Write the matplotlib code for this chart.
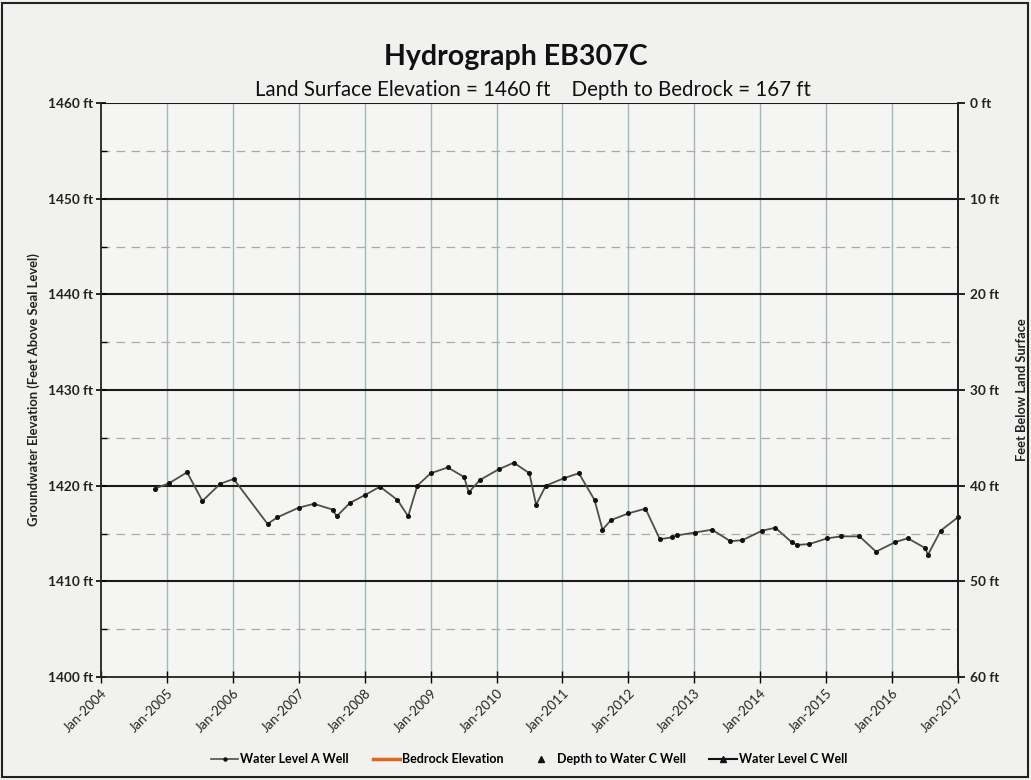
import matplotlib
matplotlib.use("Agg")
import matplotlib.pyplot as plt
from matplotlib.lines import Line2D
from matplotlib.patches import Rectangle
import pandas as pd

plt.rcParams['font.family'] = ['Lato', 'DejaVu Sans']

# ---- data ----
dates_a = ['2004-10-27', '2005-01-12', '2005-04-22', '2005-07-16', '2005-10-23',
           '2006-01-05', '2006-07-12', '2006-09-05', '2007-01-01', '2007-03-26',
           '2007-07-08', '2007-07-30', '2007-10-12', '2008-01-01', '2008-03-26',
           '2008-07-01', '2008-08-29', '2008-10-19', '2009-01-01', '2009-04-06',
           '2009-07-05', '2009-07-31', '2009-10-01', '2010-01-12', '2010-04-06',
           '2010-07-02', '2010-08-08', '2010-10-01', '2011-01-12', '2011-04-02',
           '2011-06-28', '2011-08-11', '2011-09-27', '2012-01-01', '2012-04-05',
           '2012-06-24', '2012-08-29', '2012-09-27', '2013-01-04', '2013-04-09',
           '2013-07-19', '2013-09-24', '2014-01-12', '2014-03-26', '2014-06-24',
           '2014-07-23', '2014-10-01', '2015-01-08', '2015-03-26', '2015-07-05',
           '2015-10-05', '2016-01-19', '2016-03-29', '2016-07-01', '2016-07-19',
           '2016-09-27', '2017-01-01']
level_a = [1419.7, 1420.25, 1421.4, 1418.4, 1420.2,
           1420.7, 1416.0, 1416.7, 1417.7, 1418.1,
           1417.5, 1416.8, 1418.2, 1419.0, 1419.9,
           1418.5, 1416.8, 1420.0, 1421.3, 1421.9,
           1420.9, 1419.3, 1420.6, 1421.7, 1422.4,
           1421.3, 1418.0, 1420.0, 1420.8, 1421.3,
           1418.5, 1415.4, 1416.4, 1417.1, 1417.6,
           1414.4, 1414.6, 1414.8, 1415.1, 1415.4,
           1414.2, 1414.3, 1415.3, 1415.6, 1414.1,
           1413.8, 1413.9, 1414.5, 1414.7, 1414.7,
           1413.1, 1414.1, 1414.5, 1413.5, 1412.8,
           1415.3, 1416.7]

land_surface = 1460
depth_to_bedrock = 167
year_ticks = list(range(2004, 2018))
elev_ticks = [1400, 1410, 1420, 1430, 1440, 1450, 1460]
elev_minor = [1405, 1415, 1425, 1435, 1445, 1455]
depth_ticks = [0, 10, 20, 30, 40, 50, 60]
legend_labels = ['Water Level A Well', 'Bedrock Elevation',
                 'Depth to Water C Well', 'Water Level C Well']

x_a = pd.to_datetime(dates_a)

fig = plt.figure(figsize=(10.31, 7.80), dpi=100)
bg = '#f1f1ef'
fig.patch.set_facecolor(bg)
ax = fig.add_axes([101/1031, 1-677/780, (958-101)/1031, (677-103)/780])
ax.set_facecolor('#f5f5f3')

xmin = pd.Timestamp('2004-01-01')
xmax = pd.Timestamp('2017-01-01')
ax.set_xlim(xmin, xmax)
ax.set_ylim(1400, 1460)

# gridlines
for yr in year_ticks[1:]:
    d = pd.Timestamp(f'{yr}-01-01')
    ax.axvline(d, color='#a3b8b8', lw=1.0, zorder=0.6)
for y in elev_minor:
    ax.axhline(y, color='#acaca4', lw=0.9, ls=(0, (7, 5)), zorder=0.7)
for y in elev_ticks[1:]:
    ax.axhline(y, color='#1a1a1a', lw=1.5, zorder=0.8)

# bedrock elevation (outside the visible range)
ax.plot([xmin, xmax], [land_surface - depth_to_bedrock]*2, color='#e0661c', lw=2.5)

ax.plot(x_a, level_a, color='#4f4f44', lw=1.3, marker='o', ms=2.6,
        mfc='#111111', mec='#111111', zorder=3, clip_on=False)

ax.set_xticks([pd.Timestamp(f'{y}-01-01') for y in year_ticks])
ax.set_xticklabels([f'Jan-{y}' for y in year_ticks], rotation=45, ha='right',
                   rotation_mode='anchor', fontsize=9.5, color='#222222')
ax.set_yticks(elev_ticks)
ax.set_yticklabels([f'{v} ft' for v in elev_ticks], fontsize=9.8, fontweight='bold',
                   color='#222222')
ax.set_yticks(elev_minor, minor=True)
ax.tick_params(axis='y', which='major', length=7, direction='inout', width=1.2, pad=2)
ax.tick_params(axis='y', which='minor', length=4, direction='in', width=1)
ax.tick_params(axis='x', which='major', length=8, direction='inout', width=1, pad=3)

for s in ['left', 'bottom', 'right']:
    ax.spines[s].set_color('#222222')
    ax.spines[s].set_linewidth(1.3)
ax.spines['top'].set_visible(False)

ax.set_ylabel('Groundwater Elevation (Feet Above Seal Level)', fontsize=9.4,
              fontweight='bold', color='#222222', labelpad=6)

ax2 = ax.twinx()
ax2.set_ylim(60, 0)
ax2.set_yticks(depth_ticks)
ax2.set_yticklabels([f'{v} ft' for v in depth_ticks], fontsize=9.8, fontweight='bold',
                    color='#222222')
ax2.tick_params(axis='y', length=5, direction='out', width=1.2)
for s in ['left', 'bottom', 'top']:
    ax2.spines[s].set_visible(False)
ax2.spines['right'].set_color('#222222')
ax2.spines['right'].set_linewidth(1.3)
ax2.set_ylabel('Feet Below Land Surface', fontsize=9.3, fontweight='bold',
               color='#222222', labelpad=12)

fig.text(516/1031, 1-57/780, 'Hydrograph EB307C', ha='center', va='center',
         fontsize=20.5, fontweight='bold', color='#111111')
fig.text(533/1031, 1-90/780,
         f'Land Surface Elevation = {land_surface} ft    Depth to Bedrock = {depth_to_bedrock} ft',
         ha='center', va='center', fontsize=14.8, color='#111111')

handles = [
    Line2D([], [], color='#4f4f44', lw=1.2, marker='o', ms=2.2, mfc='#111111', mec='#111111'),
    Line2D([], [], color='#e0661c', lw=2.5),
    Line2D([], [], color='#111111', lw=0, marker='^', ms=5),
    Line2D([], [], color='#111111', lw=1.5, marker='^', ms=5),
]
fig.legend(handles, legend_labels, loc='center', bbox_to_anchor=(529/1031, 1-759/780), ncol=4,
           frameon=False, handlelength=2.2, handletextpad=0.15,
           columnspacing=1.9, prop={'weight': 'bold', 'size': 9.0})

fig.add_artist(Rectangle((2/1031, 3/780), 1026/1031, 774/780, transform=fig.transFigure,
                         fill=False, ec='#222222', lw=1.5))

fig.savefig('out.png', dpi=100, facecolor=fig.get_facecolor())
